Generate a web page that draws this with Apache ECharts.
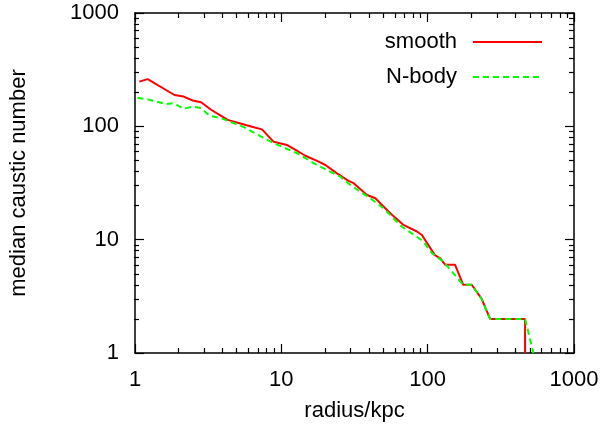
<!DOCTYPE html>
<html><head><meta charset="utf-8">
<script src="https://cdn.jsdelivr.net/npm/echarts@6/dist/echarts.min.js"></script>
<style>html,body{margin:0;padding:0;background:#fff}#c{width:605px;height:433px}</style>
</head><body><div id="c"></div>
<script>
// smooth model
const smoothRadius = [1.07, 1.22, 1.86, 2.15, 2.48, 2.83, 3.31, 3.78, 4.3, 5.25, 6.3, 7.38, 8, 8.87, 10.9, 12.5, 14.6, 18, 20, 24, 28.8, 31.2, 38.5, 43.9, 55.5, 68.4, 84.4, 91.3, 112, 122, 132, 154, 175, 200, 234, 267, 463, 463];
const smoothCount  = [248, 261, 189, 183, 169, 163, 140, 126, 114, 106, 99, 94, 84, 73, 68.5, 62, 55, 48.8, 45.6, 38.5, 33, 31.5, 24.8, 23.2, 17.1, 13.5, 11.8, 11, 7.3, 6.85, 6, 6, 4, 4, 3, 2, 2, 1];
// N-body
const nbodyRadius = [1.04, 1.22, 1.63, 1.84, 2.15, 2.48, 2.83, 3.23, 3.88, 4.54, 5.59, 7.19, 8.87, 12.8, 17.5, 25.3, 29.6, 34.6, 40.5, 49.9, 66.7, 84.4, 93.6, 107, 128, 175, 200, 234, 267, 463, 528];
const nbodyCount  = [179, 173, 157, 160, 143, 149, 145, 124, 118, 109, 98, 82, 71, 57.9, 45.6, 36, 30.4, 26.5, 23.2, 18.9, 13, 10.6, 9.6, 7.6, 6.4, 4, 4, 3, 2, 2, 1];
const majorTicks = [1, 10, 100, 1000];
const minorTicks = [2,3,4,5,6,7,8,9,20,30,40,50,60,70,80,90,200,300,400,500,600,700,800,900];
const seriesNames = ['smooth', 'N-body'];

const FONT = 'Liberation Sans';
const FS = 22;
const zip = (a, b) => a.map((v, i) => [v, b[i]]);
const line = {lineStyle: {color: '#000', width: 1.5}, onZero: false};

function axis(kind, pos, gridIndex, ticks, len, opts) {
  return Object.assign({
    type: 'log', logBase: 10, min: 1, max: 1000, gridIndex: gridIndex, position: pos,
    axisLine: gridIndex === 0 ? Object.assign({show: true}, line) : {show: false},
    axisTick: {show: true, inside: true, length: len, customValues: ticks, lineStyle: {color: '#000', width: 1.2}},
    axisLabel: {show: false},
    splitLine: {show: false}, minorTick: {show: false}, minorSplitLine: {show: false}
  }, opts || {});
}
const labelStyle = {show: true, customValues: majorTicks, fontFamily: FONT, fontSize: FS, color: '#000', formatter: v => String(Math.round(v))};

const chart = echarts.init(document.getElementById('c'), null, {renderer: 'canvas'});
const gridRect = {left: 134, right: 31, top: 13, bottom: 80, containLabel: false};
const legendBase = {right: 62, padding: 0, orient: 'vertical', align: 'right', itemWidth: 69, itemHeight: 14,
  itemStyle: {opacity: 0},
  textStyle: {fontFamily: FONT, fontSize: FS, color: '#000', padding: [0, 11, 0, 0]}};
chart.setOption({
  animation: false,
  backgroundColor: '#fff',
  grid: [Object.assign({}, gridRect), Object.assign({}, gridRect)],
  xAxis: [
    axis('x', 'bottom', 0, majorTicks, 9, {axisLabel: Object.assign({margin: 16}, labelStyle),
      name: 'radius/kpc', nameLocation: 'middle', nameGap: 47, nameTextStyle: {fontFamily: FONT, fontSize: FS, color: '#000'}}),
    axis('x', 'top', 0, majorTicks, 9),
    axis('x', 'bottom', 1, minorTicks, 5),
    axis('x', 'top', 1, minorTicks, 5)
  ],
  yAxis: [
    axis('y', 'left', 0, majorTicks, 9, {axisLabel: Object.assign({margin: 16}, labelStyle),
      name: 'median caustic number', nameLocation: 'middle', nameGap: 105, nameTextStyle: {fontFamily: FONT, fontSize: FS, color: '#000'}}),
    axis('y', 'right', 0, majorTicks, 9),
    axis('y', 'left', 1, minorTicks, 5),
    axis('y', 'right', 1, minorTicks, 5)
  ],
  legend: [
    Object.assign({data: [seriesNames[0]], top: 31}, legendBase),
    Object.assign({data: [seriesNames[1]], top: 66}, legendBase)
  ],
  series: [
    {name: seriesNames[0], type: 'line', xAxisIndex: 0, yAxisIndex: 0, symbol: 'none', showSymbol: false,
      data: zip(smoothRadius, smoothCount), color: '#ff0000', lineStyle: {color: '#ff0000', width: 2}, z: 3},
    {name: seriesNames[1], type: 'line', xAxisIndex: 0, yAxisIndex: 0, symbol: 'none', showSymbol: false,
      data: zip(nbodyRadius, nbodyCount), color: '#00ff00', lineStyle: {color: '#00ff00', width: 2, type: [6, 4]}, z: 4}
  ]
});
</script>
</body></html>
